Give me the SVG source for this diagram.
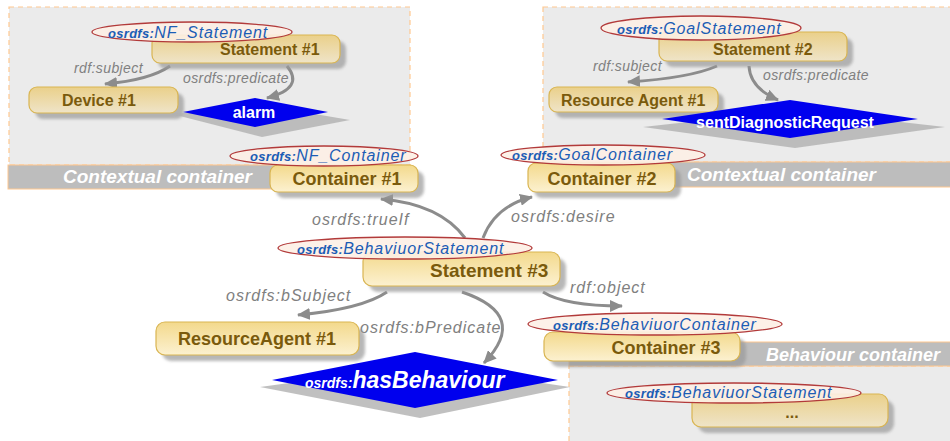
<svg xmlns="http://www.w3.org/2000/svg" width="950" height="441" viewBox="0 0 950 441">
<defs>
  <linearGradient id="boxg" x1="0" y1="0" x2="0" y2="1">
    <stop offset="0" stop-color="#f3d98c"/>
    <stop offset="1" stop-color="#fcf1d0"/>
  </linearGradient>
  <linearGradient id="boxg2" x1="0" y1="0" x2="0" y2="1">
    <stop offset="0" stop-color="#ead08a"/>
    <stop offset="1" stop-color="#efe4c8"/>
  </linearGradient>
  <filter id="blur" x="-10%" y="-30%" width="120%" height="160%">
    <feGaussianBlur stdDeviation="1.5"/>
  </filter>
  <marker id="arr" markerUnits="userSpaceOnUse" markerWidth="14" markerHeight="12" refX="12" refY="6" orient="auto">
    <path d="M0,0 L13,6 L0,12 z" fill="#8c8c8c"/>
  </marker>
  <style>
    .cont{fill:#ebebeb;stroke:#ffc890;stroke-width:1.2;stroke-dasharray:5,4}
    .band{fill:#bdbdbd;stroke:#ffc890;stroke-width:1}
    .bandtxt{font-family:"Liberation Sans",Arial,sans-serif;font-weight:bold;font-style:italic;fill:#ffffff}
    .box{fill:url(#boxg);stroke:#d9b552;stroke-width:1.2}
    .box2{fill:url(#boxg2);stroke:#d9b552;stroke-width:1.2}
    .shadow{fill:#9a9a9a;opacity:0.7;filter:url(#blur)}
    .btxt{font-family:"Liberation Sans",Arial,sans-serif;font-weight:bold;fill:#7a5a0c}
    .ell{fill:#fdf0e6;fill-opacity:0.9;stroke:#b23a3a;stroke-width:1.3}
    .etxt{font-family:"Liberation Sans",Arial,sans-serif;font-style:italic;fill:#1c5db5;letter-spacing:0.9px}
    .epre{font-weight:bold;font-size:13px;letter-spacing:0.3px}
    .dia{fill:#0000ee}
    .dsh{fill:#b0b0b0;opacity:0.8}
    .dtxt{font-family:"Liberation Sans",Arial,sans-serif;font-weight:bold;fill:#ffffff}
    .lbl{font-family:"Liberation Sans",Arial,sans-serif;font-style:italic;fill:#808080}
    .l16{font-size:16px;letter-spacing:1px}
    .l14{font-size:14px;letter-spacing:0.4px}
    .edge{fill:none;stroke:#8c8c8c;stroke-width:3;marker-end:url(#arr)}
  </style>
</defs>

<!-- containers -->
<g id="ctx1">
  <rect class="cont" x="9" y="7" width="401" height="158"/>
  <rect class="band" x="8" y="165" width="402" height="24"/>
  <text class="bandtxt" x="63" y="183" font-size="19">Contextual container</text>
</g>
<g id="ctx2">
  <rect class="cont" x="543" y="7" width="410" height="155"/>
  <rect class="band" x="543" y="162" width="410" height="25"/>
  <text class="bandtxt" x="687" y="181" font-size="19">Contextual container</text>
</g>
<g id="behcont">
  <rect class="cont" x="569" y="366" width="385" height="80"/>
  <rect class="band" x="569" y="342" width="385" height="24"/>
  <text class="bandtxt" x="766" y="361" font-size="18">Behaviour container</text>
</g>

<!-- connectors -->
<g id="connectors">
  <path class="edge" d="M170,66 Q150,80 105,84"/>
  <path class="edge" d="M287,66 Q305,88 267,98"/>
  <path class="edge" d="M717,66 Q690,78 628,82"/>
  <path class="edge" d="M749,66 Q750,88 778,100"/>
  <path class="edge" d="M465,238 Q440,204 381,199"/>
  <path class="edge" d="M483,238 Q495,206 532,197"/>
  <path class="edge" d="M387,292 Q362,309 298,315"/>
  <path class="edge" d="M462,292 Q530,315 484,363"/>
  <path class="edge" d="M543,292 Q565,306 622,306"/>
  <text class="lbl l14" x="74" y="73">rdf:subject</text>
  <text class="lbl l14" x="183" y="83">osrdfs:predicate</text>
  <text class="lbl l14" x="593" y="71">rdf:subject</text>
  <text class="lbl l14" x="763" y="80">osrdfs:predicate</text>
  <text class="lbl l16" x="312" y="225" letter-spacing="1.6">osrdfs:trueIf</text>
  <text class="lbl l16" x="511" y="222">osrdfs:desire</text>
  <text class="lbl l16" x="226" y="301">osrdfs:bSubject</text>
  <text class="lbl l16" x="360" y="333">osrdfs:bPredicate</text>
  <text class="lbl l16" x="570" y="293">rdf:object</text>
</g>

<!-- statement 1 -->
<g id="statement1">
  <rect class="shadow" x="158" y="41" width="188" height="28" rx="8"/>
  <rect class="box2" x="152" y="35" width="188" height="28" rx="8"/>
  <text class="btxt" x="220" y="55" font-size="16">Statement #1</text>
  <ellipse class="ell" cx="192" cy="32" rx="100" ry="10"/>
  <text class="etxt" x="108" y="38" font-size="16"><tspan class="epre">osrdfs:</tspan>NF_Statement</text>
</g>
<g id="device1">
  <rect class="shadow" x="35" y="93" width="149" height="26" rx="8"/>
  <rect class="box2" x="29" y="87" width="149" height="26" rx="8"/>
  <text class="btxt" x="62" y="106" font-size="16">Device #1</text>
</g>
<g id="alarm">
  <polygon class="dsh" points="172,114 268,106 350,120 262,137"/>
  <polygon class="dia" points="183,112 255,98 328,112 255,127"/>
  <text class="dtxt" x="254" y="118" font-size="16" text-anchor="middle">alarm</text>
</g>

<!-- statement 2 -->
<g id="statement2">
  <rect class="shadow" x="665" y="38" width="188" height="29" rx="8"/>
  <rect class="box2" x="659" y="32" width="188" height="29" rx="8"/>
  <text class="btxt" x="713" y="55" font-size="16">Statement  #2</text>
  <ellipse class="ell" cx="701" cy="28" rx="100" ry="12"/>
  <text class="etxt" x="617" y="34" font-size="16"><tspan class="epre">osrdfs:</tspan>GoalStatement</text>
</g>
<g id="resourceagent_a">
  <rect class="shadow" x="555" y="93" width="169" height="25" rx="8"/>
  <rect class="box2" x="549" y="87" width="169" height="25" rx="8"/>
  <text class="btxt" x="561" y="106" font-size="16">Resource Agent #1</text>
</g>
<g id="sentdiag">
  <polygon class="dsh" points="643,127 795,110 945,127 795,148"/>
  <polygon class="dia" points="662,119 790,100 918,119 790,138"/>
  <text class="dtxt" x="785" y="128" font-size="16" text-anchor="middle">sentDiagnosticRequest</text>
</g>

<!-- containers 1, 2 -->
<g id="container1">
  <rect class="shadow" x="276" y="171" width="148" height="27" rx="8"/>
  <rect class="box" x="270" y="165" width="148" height="27" rx="8"/>
  <text class="btxt" x="347" y="185" font-size="18" text-anchor="middle">Container #1</text>
  <ellipse class="ell" cx="324" cy="156" rx="94" ry="10"/>
  <text class="etxt" x="250" y="161" font-size="16"><tspan class="epre">osrdfs:</tspan>NF_Container</text>
</g>
<g id="container2">
  <rect class="shadow" x="534" y="169" width="147" height="29" rx="8"/>
  <rect class="box" x="528" y="163" width="147" height="29" rx="8"/>
  <text class="btxt" x="602" y="185" font-size="18" text-anchor="middle">Container #2</text>
  <ellipse class="ell" cx="603" cy="155" rx="102" ry="10"/>
  <text class="etxt" x="512" y="160" font-size="16"><tspan class="epre">osrdfs:</tspan>GoalContainer</text>
</g>

<!-- statement 3 -->
<g id="statement3">
  <rect class="shadow" x="369" y="258" width="197" height="34" rx="9"/>
  <rect class="box" x="363" y="252" width="197" height="34" rx="9"/>
  <text class="btxt" x="430" y="277" font-size="19">Statement #3</text>
  <ellipse class="ell" cx="405" cy="248" rx="127" ry="11"/>
  <text class="etxt" x="297" y="254" font-size="16" letter-spacing="1.2"><tspan class="epre">osrdfs:</tspan>BehaviuorStatement</text>
</g>
<g id="resourceagent_b">
  <rect class="shadow" x="162" y="328" width="203" height="33" rx="9"/>
  <rect class="box" x="156" y="322" width="203" height="33" rx="9"/>
  <text class="btxt" x="257" y="345" font-size="18" text-anchor="middle">ResourceAgent #1</text>
</g>
<g id="hasbehaviour">
  <polygon class="dsh" points="260,387 420,365 570,387 420,418"/>
  <polygon class="dia" points="272,380 415,352 558,380 415,408"/>
  <text class="dtxt" x="305" y="388" font-style="italic"><tspan font-size="14">osrdfs:</tspan><tspan font-size="23">hasBehaviour</tspan></text>
</g>

<!-- container 3 -->
<g id="container3">
  <rect class="shadow" x="550" y="338" width="196" height="29" rx="9"/>
  <rect class="box" x="544" y="332" width="196" height="29" rx="9"/>
  <text class="btxt" x="666" y="354" font-size="18" text-anchor="middle">Container #3</text>
  <ellipse class="ell" cx="655" cy="324" rx="127" ry="11"/>
  <text class="etxt" x="553" y="330" font-size="16" letter-spacing="1.2"><tspan class="epre">osrdfs:</tspan>BehaviuorContainer</text>
</g>
<g id="statement4">
  <rect class="shadow" x="698" y="400" width="196" height="33" rx="9"/>
  <rect class="box2" x="692" y="394" width="196" height="33" rx="9"/>
  <text class="btxt" x="792" y="418" font-size="16" text-anchor="middle">...</text>
  <ellipse class="ell" cx="734" cy="393" rx="127" ry="10"/>
  <text class="etxt" x="625" y="398" font-size="16" letter-spacing="1.2"><tspan class="epre">osrdfs:</tspan>BehaviuorStatement</text>
</g>
</svg>
